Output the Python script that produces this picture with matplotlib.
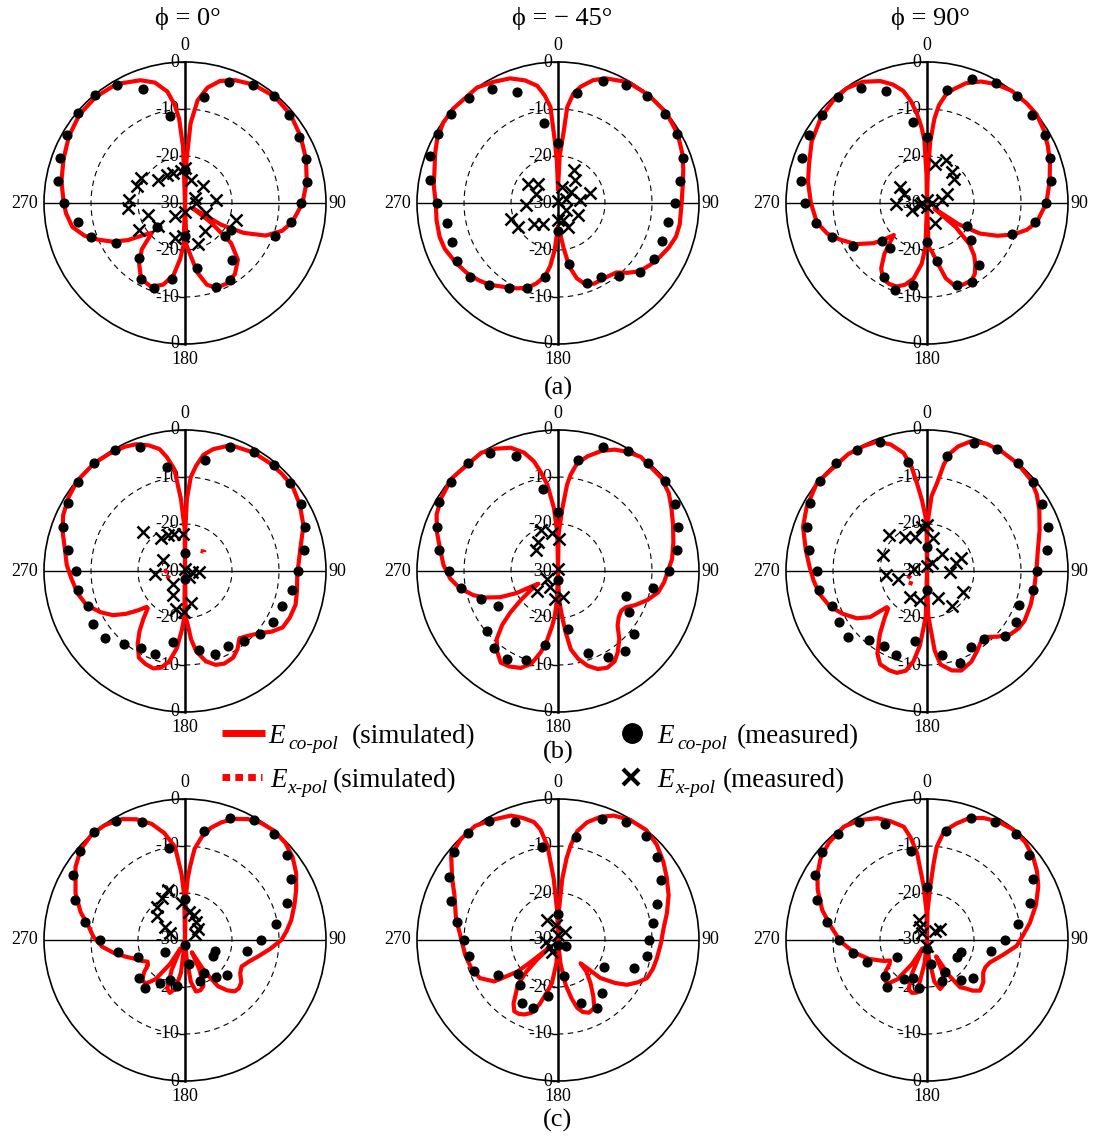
import numpy as np
import matplotlib
matplotlib.use('Agg')
import matplotlib.pyplot as plt
from matplotlib.transforms import offset_copy

plt.rcParams['font.family'] = ['Liberation Serif', 'DejaVu Serif']

# ---------------------------------------------
# DATOS (grados, dB)
# ---------------------------------------------
meas_ang = list(range(0, 360, 10))

# (a) phi = 0
a1_sim_ang = [0, 2, 4, 7, 11, 16, 22, 30, 40, 50, 60, 70, 80, 90, 100, 106, 112, 117, 121, 124, 127, 131, 137, 145, 153, 160, 165, 170, 175, 178, 180,
              182, 185, 189, 195, 202, 210, 217, 223, 228, 232, 237, 242, 247, 252, 258, 265, 270, 280, 290, 300, 310, 320, 330, 340, 346, 351, 354, 356, 358, 360]
a1_sim_db = [-30, -21, -13, -8, -5, -3, -1.8, -0.9, -0.4, -0.7, -1.6, -2.6, -3.7, -5, -6.8, -8.5, -11.5, -16, -21, -28, -23, -17, -13.5, -11.5, -10.7, -10.8, -12, -15, -19.5, -21, -30,
             -21, -18, -14.5, -12, -10.8, -11.3, -13.8, -16.5, -20.5, -19, -15.5, -12.5, -10, -7.5, -5.5, -4.6, -4.2, -3.3, -2.5, -1.5, -0.7, -0.5, -0.8, -2.2, -3.6, -6, -9, -12, -18, -30]
a1_co_db = [-23, -7.1, -2.7, -1.0, -0.4, -1.0, -2.1, -2.6, -3.7, -5.4, -7.1, -9.7, -18.7, -19, -14.3, -11, -10.9, -15.9,
            -23, -13.6, -10.8, -11.4, -14.8, -22.2, -13.1, -8.7, -6.8, -4.3, -2.5, -1.7, -1.1, -0.3, -0.1, -1.1, -4.1, -11.1]
a1_x_ang = [0, 15, 47, 84, 63, 115, 108, 145, 163, 183, 196, 218, 229, 240, 252, 265, 273, 289, 300, 311, 327, 338, 353, 90, 180]
a1_x_db = [-22.6, -24.9, -24.8, -23.3, -27.7, -25, -18.6, -22.7, -20.8, -22.9, -22.3, -26.4, -22.4, -18.6, -21.8, -17.9, -18.1, -19.1, -19.3, -22.4, -22.8, -23.2, -23.2, -27.6, -28]

# (a) phi = -45
a2_sim_ang = [0, 2, 4.5, 5.5, 8, 11, 16, 21, 30, 40, 50, 60, 68, 75, 82, 90, 100, 106, 112, 118, 124, 130, 135, 140, 148, 156, 162, 166, 170, 173, 176, 180,
              184, 187, 190, 195, 200, 206, 212, 220, 226, 233, 240, 248, 254, 262, 270, 278, 285, 292, 298, 305, 312, 325, 332, 339, 345, 350, 353, 355.5, 357, 358.5, 360]
a2_sim_db = [-27, -20, -15, -9.5, -6.5, -4.8, -2.8, -1.6, -0.3, 0, 0, -0.6, -1.5, -2.4, -3.2, -3.7, -3.7, -3.9, -4.6, -5.5, -6.4, -7.4, -9, -10.7, -11.2, -11.2, -12, -13.5, -16.3, -20.5, -23.5, -25,
             -20, -16.5, -14.2, -12.3, -10.8, -9.8, -8.9, -7.3, -6.4, -5.5, -4.8, -4, -3.8, -3.9, -4, -3.3, -2.8, -1.8, -0.9, -0.2, 0, 0, -0.8, -1.6, -3, -4.7, -7, -9.5, -16.6, -21, -27]
a2_co_db = [-17.3, -6.2, -2.3, -0.9, -0.4, -0.4, -0.8, -1.7, -3.6, -5.1, -6.2, -6.4, -6.3, -7.2, -9.8, -11.8, -11.8, -16.9,
            -24, -14, -10.8, -9, -7.3, -5.6, -5.3, -6, -6.1, -4.2, -2.4, -1, -0.5, -0.4, -0.7, -2, -4.8, -12.7]
a2_x_ang = [26, 36, 14, 72, 83, 50, 62, 131, 120, 157, 164, 216, 228, 239, 251, 266, 293, 302, 314, 0, 180]
a2_x_db = [-22.3, -24, -26.5, -22.9, -25.3, -26.3, -28, -27.7, -25.1, -24.5, -26.2, -24.6, -23.2, -20.1, -19.5, -23.2, -25, -22.5, -24.1, -29.5, -26.3]

# (a) phi = 90
a3_sim_ang = [0, 1.5, 3, 5, 7, 10, 13, 18, 24, 30, 37, 45, 51, 58, 65, 72, 80, 90, 100, 105, 110, 115, 120, 124, 127, 130, 134, 138, 142, 146, 150, 156, 162, 166, 170, 174, 178, 180,
              182, 185, 190, 195, 200, 205, 210, 215, 220, 224, 226, 229, 233, 240, 247, 253, 260, 270, 280, 288, 298, 309, 318, 325, 332, 339, 344, 348, 351, 353.6, 356, 357.6, 359, 360]
a3_sim_db = [-30, -24, -17, -12, -9, -6.5, -5.2, -3.2, -1.7, -0.8, -0.1, 0, 0, -0.7, -1.6, -2.5, -3.5, -4.6, -6.3, -8, -10.4, -13.5, -17, -22, -28, -22, -17.5, -15, -13.3, -11.8, -11, -11, -11.7, -13.5, -17, -19.5, -20.7, -30,
             -20.7, -17, -13.7, -12, -11.1, -11, -11.3, -13, -15.9, -19, -20.2, -18.5, -15.8, -12.5, -10, -7.8, -6.2, -5.3, -4.3, -3.6, -2.2, -1, -0.4, -0.2, -0.8, -2.2, -3.8, -5.6, -8, -10.9, -14, -16.7, -24, -30]
a3_co_db = [-15.9, -5.6, -1.9, -0.6, -0.3, -0.8, -1.1, -2.1, -3.3, -4.6, -6.7, -10.7, -20.1, -17.9, -12.8, -10.7, -11.5, -17.4,
            -21.7, -12.3, -10.4, -11.7, -17.6, -17.5, -11.7, -8.6, -6.1, -4, -2.8, -1.7, -1.1, -0.8, -0.6, -1.8, -4.7, -12.6]
a3_x_ang = [12, 24, 39, 48, 65, 78, 157, 301, 292, 268, 244, 251, 0, 90, 180, 270]
a3_x_db = [-21.5, -20.1, -21.6, -22.4, -25.3, -26.8, -25.4, -23.4, -24.7, -23.3, -26.5, -28.5, -29.3, -29, -29.2, -29]

# (b) phi = 0
b1_sim_ang = [0, 0.5, 1.5, 3.5, 6, 9, 13, 20, 30, 38, 45, 52, 60, 69, 79, 92, 100, 107, 114, 120, 125, 130, 136, 141, 146, 151, 157, 162, 167, 172, 175, 177, 179, 180,
              181, 183, 186, 190, 194, 198, 203, 208, 213, 217, 221, 225, 227, 230, 234, 238.5, 244, 251, 258, 266, 273, 280.5, 288, 294.5, 302, 310, 320, 327, 334, 339, 344, 348.2, 351, 354, 356.8, 359.5, 360]
b1_sim_db = [-30, -21, -14.7, -10, -7.5, -5, -3.4, -1.5, -0.9, -0.8, -0.8, -0.9, -1.8, -3, -5, -6.1, -5.8, -5.4, -5.6, -6, -7.5, -9.4, -10.8, -11.6, -10, -8.9, -8.6, -9, -10.3, -12.7, -15.5, -18.5, -20, -30,
             -20, -17.5, -13.5, -10.4, -8.8, -8.2, -8.5, -9.1, -11.5, -13.9, -16.5, -18.8, -18.8, -17, -14.5, -12, -10, -7.8, -6.7, -5.8, -4.8, -4, -2.6, -1.5, -0.7, -0.1, 0, -0.3, -0.6, -1.1, -2.2, -3.5, -5.5, -8.2, -14.7, -21, -30]
b1_co_db = [-26.2, -6.1, -2, -0.7, -0.6, -0.9, -1.4, -2.9, -4.2, -6, -6.8, -8, -8.5, -9.1, -10.5, -11.5, -11.1, -13,
            -28.4, -14.7, -11.1, -11.2, -9.8, -7.7, -7.4, -8, -6.9, -6.9, -4.8, -2.4, -1.2, -0.4, 0, -0.3, -2, -7.6]
b1_x_ang = [313, 324, 335, 344, 357, 296, 265, 224, 206, 193, 170, 182, 0, 97, 94, 144]
b1_x_db = [-17.8, -21.4, -21.5, -21.8, -22.1, -24.9, -23.5, -26.3, -24.3, -21.8, -23, -21.3, -29.5, -28.4, -27, -28.4]
b1_xsim1_ang = [38, 45, 52]
b1_xsim1_db = [-24.6, -24.2, -24.8]
b1_xsim2_ang = [245, 255, 265, 275]
b1_xsim2_db = [-26.5, -25.8, -25.6, -26.2]

# (b) phi = -45
b2_sim_ang = [0, 1, 4, 6, 7.5, 10, 14.4, 20, 25, 30, 36, 48, 55, 61, 68, 76, 84, 90, 96, 102, 108, 114, 118, 122, 127, 132.5, 138, 143.8, 148, 153, 158, 162.7, 167, 170.7, 173, 175, 178, 180,
              182, 184, 186, 189, 192, 196, 201, 207, 212, 217, 222, 226, 229, 232, 235, 237, 239, 242, 245.6, 250, 254, 260, 266, 273, 281, 288, 295, 302, 311, 327, 333, 339, 344, 347.6, 350, 353, 356.3, 359, 360]
b2_sim_db = [-30, -22, -16.6, -11.5, -9.3, -6.8, -4.8, -2.8, -1.5, -0.7, 0, -0.4, -1.2, -2.4, -3.6, -4.7, -5.6, -6.6, -7.3, -8.2, -10, -12.1, -13.6, -14.1, -13.8, -12.8, -10.5, -8.5, -7.3, -6.9, -7.5, -8.9, -10.8, -13.1, -17, -20.5, -24, -30,
             -24, -20.5, -18.3, -15, -12.3, -9.5, -7.9, -7.2, -7, -8.5, -10.5, -13.5, -16.6, -20, -23, -25, -24, -20, -16.5, -13.5, -11.3, -8.8, -7, -5.6, -4.4, -2.9, -1.5, -0.7, 0, 0, -0.8, -1.9, -3.8, -6.1, -8.5, -11.5, -16.6, -22, -30]
b2_co_db = [-17.5, -6.1, -2, -0.4, -0.1, -0.3, -1.3, -2.9, -4.3, -6.4, -9.5, -14.7, -12.6, -9, -7.9, -8.9, -11.4, -17.5,
            -28, -14.1, -9.9, -8.3, -8.7, -10.2, -15.2, -12.5, -9, -6.8, -4.3, -2.5, -0.8, -0.4, -0.1, -1.1, -4, -12.2]
b2_x_ang = [337, 326, 313, 351, 2, 0, 234, 227, 205, 187, 169]
b2_x_db = [-20.5, -22.5, -23.5, -21.9, -23.1, -29.6, -27.2, -23.9, -26.2, -24, -24.3]

# (b) phi = 90
b3_sim_ang = [0, 0.5, 1.6, 3.5, 6.5, 9, 11.2, 14, 18.6, 25, 32, 40, 48.7, 55, 61.5, 70, 79.4, 89, 98.5, 108, 117, 122, 127, 133, 139, 143, 148, 154, 161, 166, 171.8, 174.5, 176.6, 178.5, 180,
              181.5, 183.4, 185.5, 188.5, 192, 196.5, 201, 206.7, 211, 216.7, 222, 226, 228, 231, 236, 243, 250, 258, 265, 272, 280, 289.6, 298, 308.7, 326, 333, 339, 344, 348.8, 351.5, 353.5, 356, 358.4, 359.5, 360]
b3_sim_db = [-30, -22, -18.4, -14, -11.2, -7, -4.4, -2.7, -0.9, -0.1, 0, -0.1, -0.6, -1.5, -2.8, -4.5, -6, -6.7, -6.9, -6.8, -6.7, -7, -7.7, -9.5, -11.4, -11, -9.9, -8.5, -7.6, -8.2, -9.9, -13, -18, -20.5, -30,
             -20.5, -18, -14, -10.6, -8.3, -7.4, -7.4, -7.8, -9.5, -13.2, -16.5, -18.5, -18.5, -14.4, -12, -9.9, -8, -6.6, -5.8, -5, -3.8, -2, -1, 0, 0, -0.2, -0.5, -2, -4.4, -7.5, -11.2, -15, -18.4, -22, -30]
b3_co_db = [-24.9, -5.1, -1, -0.1, 0, -0.5, -1.7, -2.6, -4, -6.6, -7.2, -9.1, -8.1, -8.4, -11.1, -11.4, -9.2, -11.9,
            -26, -14.8, -11, -11.6, -10.7, -8, -8.5, -8.4, -6.6, -6.6, -4.6, -2.8, -1.2, -0.2, 0, -0.3, -0.9, -6.5]
b3_x_ang = [353, 0, 11, 341, 327, 313, 290, 265, 255, 280, 32, 42, 92, 75, 70, 120, 145, 158, 194, 213, 0]
b3_x_db = [-20.6, -20.2, -22.8, -22.3, -21.5, -18.8, -20.1, -21.2, -23.7, -27.1, -28, -25.2, -25, -23.7, -22.2, -21.1, -20.8, -23.8, -23.7, -23.4, -29]
b3_xsim_ang = [228, 238, 248, 256]
b3_xsim_db = [-25.9, -25.4, -25.6, -26.4]

# (c) phi = 0
c1_sim_ang = [0, 1, 2.5, 3.9, 6, 9.2, 13, 17.2, 22, 27.5, 33, 39.3, 46, 52.4, 59, 65.9, 72, 79.4, 85, 90, 96, 102.8, 108, 115, 121, 127, 132, 136, 140, 144.5, 148, 151, 154, 158, 163, 168, 172, 175, 177,
              183, 187, 191, 196, 200, 204, 208, 212, 217, 222, 227, 232, 236, 240, 244, 247, 254.5, 260, 265.4, 272, 278, 285, 293, 303.7, 311, 318.8, 325, 332.5, 338, 344, 349, 353.9, 357, 359, 360]
c1_sim_db = [-30, -21, -17, -14.4, -10.5, -7.8, -5.5, -3.8, -2.2, -1, -0.3, 0, -0.3, -1.1, -2.4, -4.1, -5.5, -7, -8.3, -9.5, -11.8, -14.1, -15.5, -16.7, -16.3, -15, -14.6, -14.8, -16, -17.9, -22, -27, -23, -19.5, -18.8, -18.8, -21, -26, -30,
             -30, -23, -19.5, -18.3, -19, -23, -28, -24, -19.5, -17.5, -17.5, -19, -20.5, -20.8, -19.8, -19.3, -16.8, -14.5, -12.3, -10.5, -9.3, -7, -4.7, -2, -0.6, 0, -0.2, -1, -2.3, -4.3, -6.8, -10.1, -15.9, -20.5, -30]
c1_co_db = [-21.2, -6.4, -2.3, -0.6, -0.6, -1.7, -3.9, -6.9, -10.4, -13.8, -16.7, -23.3, -23, -18.3, -19.7, -21.8, -20.8, -24.8,
            -29, -20, -20.9, -19.5, -16.7, -17.3, -25, -19.3, -15.6, -12, -8.3, -5, -2.5, -0.7, 0, -0.7, -3.3, -10.1]
c1_x_ang = [341, 331, 319, 310, 304, 296, 355, 9, 20, 32, 49, 59]
c1_x_db = [-18.8, -19.9, -20.8, -22.1, -24.9, -26.5, -22.2, -23.9, -24.4, -25.4, -26.3, -27.5]

# (c) phi = -45
c2_sim_ang = [0, 1.5, 4, 6, 7.6, 10, 13.9, 19, 24.1, 31, 38.7, 46, 53.5, 60, 67.9, 76, 83.7, 92, 100.5, 107, 113.2, 118, 123, 127, 131.9, 134, 136, 138, 143, 148, 152, 157, 161, 164.2, 167, 170.3, 174, 177,
              181, 184, 188, 191.7, 196, 200, 204.4, 208, 211.5, 215, 218, 222, 225, 227, 229, 231, 232, 237, 244, 252, 261, 270.6, 282, 293.4, 300, 308.4, 316, 323.9, 331, 339.3, 344, 348.5, 351, 353.6, 356, 358.5, 360]
c2_sim_db = [-30, -24, -16.9, -12.5, -9.7, -6.5, -4.2, -2.3, -1, -0.2, 0, -0.8, -2.1, -3.3, -4.6, -6.1, -7.4, -8.1, -8.6, -8.9, -9.4, -10.8, -12.5, -14.8, -17.9, -21.4, -23.1, -21, -18.5, -15.8, -13.6, -13.2, -13.8, -15, -17.3, -20.3, -25, -30,
             -30, -25, -20.8, -18.8, -15.8, -13.5, -12.6, -12.2, -12.2, -13.5, -15.4, -17.2, -20.5, -24, -28, -23, -19.1, -13.8, -11.5, -10.6, -10, -9.4, -7.8, -6, -4, -1, -0.2, 0, -0.8, -1.7, -3, -4.4, -6.2, -9.8, -16.9, -24, -30]
c2_co_db = [-24.4, -7.7, -2.6, -1, -1, -2.4, -4.6, -7.5, -9.5, -10.7, -10.8, -12.8, -18.7, -27.9, -15.4, -13.4, -15.7, -22.3,
            -29, -18, -14.6, -14.5, -17.5, -18.9, -15.3, -11, -10.7, -9.9, -8.2, -5.7, -3.1, -1, -0.3, -0.7, -3.2, -9.9]
c2_x_ang = [332, 351, 41, 262, 230, 205, 0]
c2_x_db = [-25.2, -26.8, -27.8, -27.5, -27.8, -27.1, -29]

# (c) phi = 90
c3_sim_ang = [0, 1, 3.5, 5, 6, 9, 14.3, 19, 24.8, 31, 38, 45, 51.8, 58, 64.2, 72, 80.5, 87, 93.8, 101, 109.7, 115, 120, 127, 133.7, 138, 142, 145, 148, 151, 154, 158, 164.9, 170, 174, 177,
              183, 186, 190.8, 196, 200.4, 204, 208, 212, 217, 222, 227.8, 233, 237, 241, 244, 252, 260.2, 269, 278.2, 286, 294.7, 301, 308.2, 315, 323.8, 331, 337.8, 343, 348.4, 351, 353.5, 356.5, 359, 360]
c3_sim_db = [-30, -24, -18.6, -13.5, -10, -6.5, -4.4, -2.6, -1.4, -0.6, -0.2, -0.5, -1.3, -2.4, -3.7, -5.6, -7.8, -9.5, -10.9, -13.5, -15.8, -16.3, -16.2, -15, -14.4, -15.5, -17, -17.7, -21, -26, -23, -20, -19.2, -21, -26, -30,
             -30, -25, -18.6, -18.3, -18.8, -22, -28, -24, -19.5, -17.5, -17.6, -19, -20.5, -21, -19.8, -17, -14.3, -11.6, -9.3, -6.8, -4.4, -2.8, -1.3, -0.6, -0.1, -0.8, -2, -3.6, -5.4, -8, -11.4, -18.6, -24, -30]
c3_co_db = [-18.7, -6.4, -2.4, -0.9, -0.6, -1.8, -3.9, -6.7, -10.4, -13.4, -16.2, -22.4, -22.6, -17.3, -18.9, -22.2, -20.7, -24.9,
            -28, -19.7, -21.3, -20.3, -16.9, -18.2, -22.6, -16.5, -14.1, -11.3, -8.5, -5.2, -2.4, -0.9, -0.5, -1, -3.8, -10.8]
c3_x_ang = [338, 331, 326, 43, 50, 180]
c3_x_db = [-25.3, -26.8, -28.1, -27.4, -26.3, -28.7]

titulos = ['ϕ = 0°', 'ϕ = − 45°', 'ϕ = 90°']
subtitulos = ['(a)', '(b)', '(c)']

paneles = [
    (a1_sim_ang, a1_sim_db, a1_co_db, a1_x_ang, a1_x_db, []),
    (a2_sim_ang, a2_sim_db, a2_co_db, a2_x_ang, a2_x_db, []),
    (a3_sim_ang, a3_sim_db, a3_co_db, a3_x_ang, a3_x_db, []),
    (b1_sim_ang, b1_sim_db, b1_co_db, b1_x_ang, b1_x_db, [(b1_xsim1_ang, b1_xsim1_db), (b1_xsim2_ang, b1_xsim2_db)]),
    (b2_sim_ang, b2_sim_db, b2_co_db, b2_x_ang, b2_x_db, []),
    (b3_sim_ang, b3_sim_db, b3_co_db, b3_x_ang, b3_x_db, [(b3_xsim_ang, b3_xsim_db)]),
    (c1_sim_ang, c1_sim_db, c1_co_db, c1_x_ang, c1_x_db, []),
    (c2_sim_ang, c2_sim_db, c2_co_db, c2_x_ang, c2_x_db, []),
    (c3_sim_ang, c3_sim_db, c3_co_db, c3_x_ang, c3_x_db, []),
]

# ---------------------------------------------
# FIGURA
# ---------------------------------------------
W, H = 1096, 1137
fig = plt.figure(figsize=(W / 100, H / 100), dpi=100)
centros_x = [185, 558, 927]
centros_y = [203, 571, 940]
R = 141
rojo = '#ff0000'

for i, (s_ang, s_db, co_db, x_ang, x_db, xsim) in enumerate(paneles):
    cx = centros_x[i % 3]
    cy = centros_y[i // 3]
    ax = fig.add_axes([(cx - R) / W, 1 - (cy + R) / H, 2 * R / W, 2 * R / H], projection='polar')
    ax.set_theta_zero_location('N')
    ax.set_theta_direction(-1)
    ax.set_ylim(-30, 0)
    ax.set_xticks([])
    ax.set_yticks([])
    ax.grid(False)
    ax.spines['polar'].set_linewidth(1.2)

    # circulos punteados y ejes
    circ = np.linspace(0, 2 * np.pi, 361)
    for nivel in [-10, -20]:
        ax.plot(circ, np.full_like(circ, nivel), color='black', lw=0.8, ls=(0, (5, 4)), zorder=1)
    ax.plot([0, 0], [0, -30], color='black', lw=1.8, zorder=2, clip_on=False)
    ax.plot([np.pi, np.pi], [-30, 0], color='black', lw=1.8, zorder=2, clip_on=False)
    ax.plot([np.pi / 2, np.pi / 2], [0, -30], color='black', lw=1.0, zorder=2)
    ax.plot([3 * np.pi / 2, 3 * np.pi / 2], [-30, 0], color='black', lw=1.0, zorder=2)

    # etiquetas radiales
    trans = offset_copy(ax.transData, fig=fig, x=-4, y=0, units='points')
    for th, niveles in [(0, [0, -10, -20, -30]), (np.pi, [-20, -10, 0])]:
        for n in niveles:
            ax.text(th, n, str(n), transform=trans, ha='right', va='center', fontsize=13, zorder=2)
        ax.plot([th] * len(niveles), niveles, ls='none', marker=0, ms=4, mew=1, color='black', clip_on=False, zorder=2)

    # etiquetas de angulo
    ax.text(0, 0, '0', transform=offset_copy(ax.transData, fig=fig, x=0, y=6, units='points'),
            ha='center', va='bottom', fontsize=13)
    ax.text(np.pi, 0, '180', transform=offset_copy(ax.transData, fig=fig, x=0, y=-5, units='points'),
            ha='center', va='top', fontsize=13)
    ax.text(np.pi / 2, 0, '90', transform=offset_copy(ax.transData, fig=fig, x=2, y=0, units='points'),
            ha='left', va='center', fontsize=13)
    ax.text(3 * np.pi / 2, 0, '270', transform=offset_copy(ax.transData, fig=fig, x=-4, y=0, units='points'),
            ha='right', va='center', fontsize=13)

    # curvas
    ax.plot(np.radians(s_ang), s_db, color=rojo, lw=3, zorder=3, clip_on=False, solid_joinstyle='round')
    for xa, xd in xsim:
        ax.plot(np.radians(xa), xd, color=rojo, lw=3, ls=(0, (1, 1)), zorder=3)
    ax.plot(np.radians(meas_ang), co_db, ls='none', marker='o', ms=6.3, color='black', zorder=4, clip_on=False)
    ax.plot(np.radians(x_ang), x_db, ls='none', marker='x', ms=8, mew=1.8, color='black', zorder=5)

# textos en pixeles
ax0 = fig.add_axes([0, 0, 1, 1])
ax0.set_xlim(0, W)
ax0.set_ylim(H, 0)
ax0.axis('off')

for x, t in zip([188, 562, 930], titulos):
    ax0.text(x, 18, t, ha='center', va='center', fontsize=19)
for y, t in zip([388, 752, 1120], subtitulos):
    ax0.text(558, y, t, ha='center', va='center', fontsize=19)

# leyenda
ax0.plot([222, 265], [733, 733], color=rojo, lw=5, solid_capstyle='butt')
ax0.plot([222, 262], [777, 777], color=rojo, lw=5, ls=(0, (1.1, 0.75)))
ax0.plot([632], [733], marker='o', ms=14, color='black', ls='none')
ax0.plot([631], [777], marker='x', ms=12, mew=3, color='black', ls='none')

leyenda = [
    (268, 743, 'co-pol', 288, 352, '(simulated)'),
    (270, 787, 'x-pol', 287, 333, '(simulated)'),
    (657, 743, 'co-pol', 677, 737, '(measured)'),
    (657, 787, 'x-pol', 675, 723, '(measured)'),
]
for xe, yb, sub, xs, xt, txt in leyenda:
    ax0.text(xe, yb, 'E', style='italic', fontsize=19.5, va='baseline', ha='left')
    ax0.text(xs, yb + 6, sub, style='italic', fontsize=14, va='baseline', ha='left')
    ax0.text(xt, yb, txt, fontsize=19.5, va='baseline', ha='left')

fig.savefig('out.png', dpi=100)
